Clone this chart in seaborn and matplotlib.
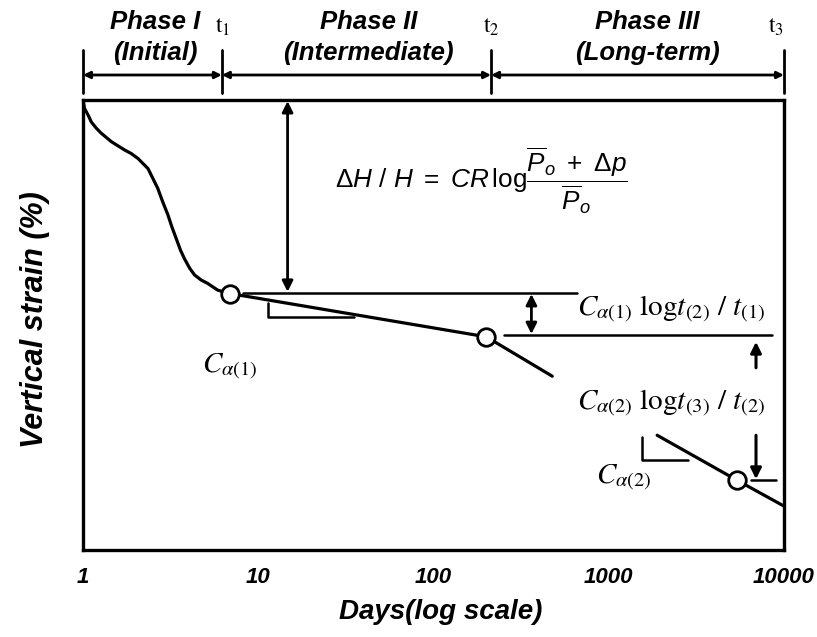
import matplotlib
matplotlib.use("Agg")
import matplotlib.pyplot as plt
import pandas as pd
import seaborn as sns

# ---------------- data ----------------
phase1_days = [1, 1.02, 1.07, 1.115, 1.19, 1.27, 1.45, 1.73, 1.88, 2.06, 2.20, 2.35, 2.50,
               2.67, 2.85, 3.05, 3.21, 3.40, 3.60, 3.79, 4.06, 4.33, 4.72, 5.14, 5.87, 6.87]
phase1_strain = [0, 0.15, 0.27, 0.39, 0.50, 0.59, 0.74, 0.89, 0.95, 1.04, 1.13, 1.22, 1.39,
                 1.57, 1.81, 2.04, 2.25, 2.46, 2.67, 2.82, 2.99, 3.11, 3.20, 3.26, 3.38, 3.44]
phase2_days = [6.87, 200, 476]
phase2_strain = [3.44, 4.21, 4.91]
phase3_days = [1889, 5395, 10000]
phase3_strain = [5.96, 6.76, 7.22]
marker_days = [6.87, 200, 5395]
marker_strain = [3.44, 4.21, 6.76]

phase_bounds = [1, 6.2, 213, 10000]
phase_titles = ["Phase I", "Phase II", "Phase III"]
phase_subtitles = ["(Initial)", "(Intermediate)", "(Long-term)"]
phase_centers = [2.57, 42.6, 1656]
t_labels = [r"$\mathrm{t}_1$", r"$\mathrm{t}_2$", r"$\mathrm{t}_3$"]
t_label_days = [6.3, 213, 9000]

x_ticks = [1, 10, 100, 1000, 10000]
x_ticklabels = ["1", "10", "100", "1000", "10000"]
y_ticks = [1, 2, 3, 4, 5, 6, 7]

ref1_days = [8.17, 661]
ref1_strain = [3.43, 3.43]
ref2_days = [254, 8530]
ref2_strain = [4.18, 4.18]
tri1_days = [11.3, 11.3, 35.3]
tri1_strain = [3.61, 3.86, 3.86]
tri2_days = [1553, 1553, 2838]
tri2_strain = [5.99, 6.40, 6.40]
tick3_days = [6440, 9000]
tick3_strain = [6.76, 6.76]

# ---------------- style ----------------
sns.set_style("white")
plt.rcParams["font.family"] = ["Liberation Sans", "DejaVu Sans"]
plt.rcParams["text.color"] = "black"
plt.rcParams["axes.labelcolor"] = "black"
plt.rcParams["xtick.color"] = "black"
plt.rcParams["ytick.color"] = "black"
plt.rcParams["mathtext.fontset"] = "custom"
plt.rcParams["mathtext.rm"] = "Liberation Sans"
plt.rcParams["mathtext.it"] = "Liberation Sans:italic"
plt.rcParams["mathtext.bf"] = "Liberation Sans:bold"

fig = plt.figure(figsize=(8.17, 6.37), dpi=100)
ax = fig.add_axes([83 / 817, 87 / 637, 701 / 817, 450 / 637])

LW = 2.3
segs = [
    pd.DataFrame({"days": phase1_days, "strain": phase1_strain}),
    pd.DataFrame({"days": phase2_days, "strain": phase2_strain}),
    pd.DataFrame({"days": phase3_days, "strain": phase3_strain}),
]
for df in segs:
    sns.lineplot(data=df, x="days", y="strain", ax=ax, color="black", lw=LW,
                 estimator=None, sort=False, zorder=3)
ax.lines[0].set_solid_joinstyle("round")

for xs, ys in [(ref1_days, ref1_strain), (ref2_days, ref2_strain),
               (tri1_days, tri1_strain), (tri2_days, tri2_strain),
               (tick3_days, tick3_strain)]:
    sns.lineplot(x=xs, y=ys, ax=ax, color="black", lw=1.8, estimator=None, sort=False)

sns.scatterplot(x=marker_days, y=marker_strain, ax=ax, s=160, facecolor="white",
                edgecolor="black", linewidth=2, zorder=5)

ax.set_xscale("log")
ax.set_xlim(1, 10000)
ax.set_ylim(8, 0)
ax.set_xticks(x_ticks)
ax.set_xticklabels(x_ticklabels)
ax.xaxis.set_minor_locator(matplotlib.ticker.NullLocator())
ax.set_yticks(y_ticks)
ax.set_yticklabels([])
ax.tick_params(direction="in", length=7, width=1.5, color="black", pad=12)
for lab in ax.get_xticklabels():
    lab.set_fontsize(16)
    lab.set_fontweight("bold")
    lab.set_fontstyle("italic")
for sp in ax.spines.values():
    sp.set_linewidth(2.4)
    sp.set_color("black")

ax.set_xlabel("Days(log scale)", fontsize=20, fontweight="bold", fontstyle="italic")
ax.set_ylabel("Vertical strain (%)", fontsize=22, fontweight="bold", fontstyle="italic")
ax.xaxis.set_label_coords((441 - 83) / 701, (550 - 612) / 450)
ax.xaxis.label.set_va("center")
ax.yaxis.set_label_coords((35 - 83) / 701, (550 - 320) / 450)
ax.yaxis.label.set_va("center")

# arrows inside plot
arrow_kw = dict(arrowstyle="<|-|>", color="black", lw=2, mutation_scale=16,
                shrinkA=0, shrinkB=0)
ax.annotate("", xy=(14.7, 0.02), xytext=(14.7, 3.41), arrowprops=arrow_kw)
ax.annotate("", xy=(362, 3.45), xytext=(362, 4.16), arrowprops=arrow_kw)
single_kw = dict(arrowstyle="-|>", color="black", lw=2.2, mutation_scale=16,
                 shrinkA=0, shrinkB=0)
ax.annotate("", xy=(6923, 4.30), xytext=(6923, 4.76), arrowprops=single_kw)
ax.annotate("", xy=(6923, 6.74), xytext=(6923, 5.96), arrowprops=single_kw)

# formulas
fig.text(481 / 817, 1 - 181 / 637,
         r"$\Delta H\ /\ H\ =\ CR\,\mathrm{log}\dfrac{\overline{P}_o\ +\ \Delta p}{\overline{P}_o}$",
         fontsize=18.8, ha="center", va="center", math_fontfamily="custom")
ax.text(661, 3.72, r"$C_{\alpha(1)}\ \mathrm{log}t_{(2)}\ /\ t_{(1)}$", fontsize=21,
        ha="left", va="center", math_fontfamily="stix")
ax.text(661, 5.40, r"$C_{\alpha(2)}\ \mathrm{log}t_{(3)}\ /\ t_{(2)}$", fontsize=21,
        ha="left", va="center", math_fontfamily="stix")
ax.text(6.9, 4.75, r"$C_{\alpha(1)}$", fontsize=21, ha="center", va="center",
        math_fontfamily="stix")
ax.text(1220, 6.72, r"$C_{\alpha(2)}$", fontsize=21, ha="center", va="center",
        math_fontfamily="stix")

# phase annotations above the axes
trans = ax.get_xaxis_transform()
y_arrow = (550 - 75) / 450
phase_kw = dict(arrowstyle="<|-|>", color="black", lw=2, mutation_scale=10,
                shrinkA=0, shrinkB=0)
for i in range(3):
    ax.annotate("", xy=(phase_bounds[i], y_arrow), xytext=(phase_bounds[i + 1], y_arrow),
                xycoords=trans, textcoords=trans, arrowprops=phase_kw, annotation_clip=False)
    ax.text(phase_centers[i], (550 - 22) / 450, phase_titles[i], transform=trans,
            ha="center", va="center", fontsize=18.5, fontweight="bold", fontstyle="italic")
    ax.text(phase_centers[i], (550 - 53) / 450, phase_subtitles[i], transform=trans,
            ha="center", va="center", fontsize=18.5, fontweight="bold", fontstyle="italic")
    ax.text(t_label_days[i], (550 - 27) / 450, t_labels[i], transform=trans,
            ha="center", va="center", fontsize=17, math_fontfamily="stix")
for b in phase_bounds:
    ax.plot([b, b], [(550 - 93) / 450, (550 - 50) / 450], transform=trans,
            color="black", lw=2, clip_on=False)

fig.savefig("out.png", dpi=100)
